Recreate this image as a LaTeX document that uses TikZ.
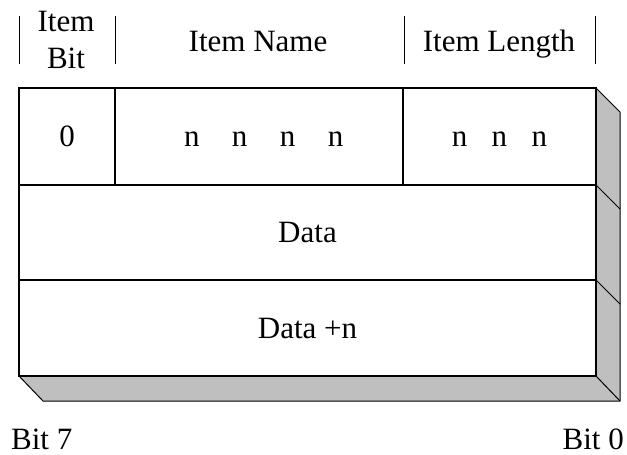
\documentclass[tikz,border=0pt]{standalone}
\usepackage{fontspec}
\setmainfont{Liberation Serif}
\begin{document}
\begin{tikzpicture}[x=1pt,y=-1pt,
  every node/.style={font=\fontsize{31}{37}\selectfont},
  cell/.style={draw=black, line width=1.1pt, fill=white, rectangle,
    anchor=north west, inner sep=0pt, outer sep=0pt,
    text height=20pt, text depth=0pt},
  face/.style={fill=black!25},
  edge/.style={draw=black, line width=1pt, line join=round},
  bar/.style={draw=black, line width=1pt}]
\useasboundingbox (0,0) rectangle (627,455);

% extruded sides of the slab
\fill[face] (596,88) -- (620,112) -- (620,401) -- (596,376) -- cycle;
\fill[face] (19,376) -- (596,376) -- (620,401) -- (43,401) -- cycle;
\draw[edge] (596,88) -- (620,112) -- (620,401) -- (43,401) -- (19,376);
\draw[edge] (596,376) -- (620,401);
\draw[edge] (596,185) -- (620,209);
\draw[edge] (596,280) -- (620,304);

% front face: header row and data rows
\node[cell, minimum width=96, minimum height=97] (c0) at (19,88) {0};
\node[cell, minimum width=288, minimum height=97] (cname) at (115,88)
  {\hspace*{9.5pt}n\hspace{32.5pt}n\hspace{32.5pt}n\hspace{32.5pt}n};
\node[cell, minimum width=193, minimum height=97] (clen) at (403,88)
  {n\hspace{24.5pt}n\hspace{24.5pt}n};
\node[cell, minimum width=577, minimum height=95] (data) at (19,185) {Data};
\node[cell, minimum width=577, minimum height=96] (datan) at (19,280) {Data +n};

% field headings with separator bars
\draw[bar] (19,16) -- (19,64);
\draw[bar] (115,16) -- (115,64);
\draw[bar] (404,16) -- (404,64);
\draw[bar] (595,16) -- (595,64);
\node[align=center, anchor=base, inner sep=0pt] (hbit) at (66,68) {Item\\Bit};
\node[anchor=base, inner sep=0pt] (hname) at (258,51) {Item Name};
\node[anchor=base, inner sep=0pt] (hlen) at (499,51) {Item Length};

% bit order labels
\node[anchor=base west, inner sep=0pt] (b7) at (11,449) {Bit 7};
\node[anchor=base east, inner sep=0pt] (b0) at (624,449) {Bit 0};
\end{tikzpicture}
\end{document}
